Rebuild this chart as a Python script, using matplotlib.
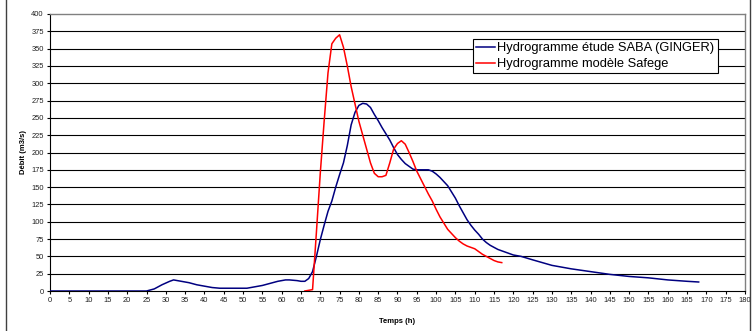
import matplotlib
matplotlib.use("Agg")
import matplotlib.pyplot as plt
from matplotlib.lines import Line2D

plt.rcParams['font.family'] = ['Liberation Sans', 'DejaVu Sans']

# Hydrogramme étude SABA (GINGER)
saba_t = [0, 25, 27, 29, 31, 32, 34, 36, 38, 40,
          42, 44, 48, 51, 53, 55, 57, 59, 61, 62,
          64, 65, 66, 67, 68, 69, 70, 71, 72, 73,
          74, 75, 76, 77, 78, 79, 80, 81, 82, 83,
          84, 85, 86, 87, 88, 89, 90, 91, 92, 93,
          94, 95, 96, 97, 98, 99, 100, 101, 102, 103,
          104, 105, 106, 107, 108, 109, 110, 111, 112, 113,
          114, 115, 116, 118, 120, 122, 125, 130, 135, 140,
          145, 150, 155, 160, 165, 168]
saba_q = [0, 0, 3, 9, 14, 16, 14, 12, 9, 7,
          5, 4, 4, 4, 6, 8, 11, 14, 16, 16,
          15, 14, 14, 18, 28, 50, 74, 95, 115, 130,
          150, 168, 185, 210, 240, 258, 268, 271, 270, 265,
          255, 246, 236, 227, 218, 207, 197, 190, 184, 180,
          176, 175, 175, 175, 175, 173, 169, 164, 158, 152,
          143, 134, 123, 113, 103, 95, 88, 82, 75, 70,
          66, 63, 60, 56, 52, 50, 45, 37, 32, 28,
          24, 21, 19, 16, 14, 13]

# Hydrogramme modèle Safege
safege_t = [66, 68, 69, 70, 71, 72, 73, 74, 75, 76,
            77, 78, 79, 80, 81, 82, 83, 84, 85, 86,
            87, 88, 89, 90, 91, 92, 93, 94, 95, 96,
            97, 98, 99, 100, 101, 102, 103, 104, 105, 106,
            107, 108, 109, 110, 111, 112, 113, 114, 115, 116,
            117]
safege_q = [0, 2, 85, 170, 245, 315, 357, 365, 370, 352,
            325, 295, 270, 245, 225, 205, 185, 170, 165, 165,
            167, 185, 205, 213, 217, 212, 200, 187, 173, 162,
            151, 140, 130, 118, 107, 98, 89, 83, 77, 72,
            68, 65, 63, 61, 57, 53, 50, 47, 44, 42,
            41]

x_ticks = list(range(0, 181, 5))
y_ticks = list(range(0, 401, 25))

fig = plt.figure(figsize=(7.52, 3.31), dpi=100)
ax = fig.add_axes([50 / 752, 40 / 331, 695 / 752, 277 / 331])

for v in y_ticks[1:-1]:
    ax.axhline(v, color='black', linewidth=0.8, zorder=1)

ax.plot(saba_t, saba_q, color='#000080', linewidth=1.1,
        label='Hydrogramme étude SABA (GINGER)', zorder=3)
ax.plot(safege_t, safege_q, color='#FF0000', linewidth=1.1,
        label='Hydrogramme modèle Safege', zorder=3)

ax.set_xlim(0, 180)
ax.set_ylim(0, 400)
ax.set_xticks(x_ticks)
ax.set_yticks(y_ticks)
ax.tick_params(axis='both', labelsize=5.4, length=2.5, width=0.8,
               direction='out', pad=2, labelcolor='#202020')
for s in ['top', 'right']:
    ax.spines[s].set_color('#808080')
    ax.spines[s].set_linewidth(1.0)
for s in ['left', 'bottom']:
    ax.spines[s].set_color('black')
    ax.spines[s].set_linewidth(0.8)

ax.set_xlabel('Temps (h)', fontsize=5.5, fontweight='bold', labelpad=10)
ax.set_ylabel('Débit (m3/s)', fontsize=5.5, fontweight='bold', labelpad=3)

leg = ax.legend(loc='upper left', bbox_to_anchor=(0.609, 0.91),
                borderaxespad=0, fontsize=9.3, frameon=True, fancybox=False,
                handlelength=1.4, handletextpad=0.2, labelspacing=0.3,
                borderpad=0.25)
leg.get_frame().set_edgecolor('black')
leg.get_frame().set_linewidth(0.8)
leg.get_frame().set_alpha(1)

# chart area border
fig.add_artist(Line2D([5.5 / 752, 5.5 / 752], [0, 1], color='#404040', linewidth=1.0))
fig.add_artist(Line2D([750 / 752, 750 / 752], [0, 1], color='#404040', linewidth=1.0))

fig.savefig('out.png', dpi=100)
